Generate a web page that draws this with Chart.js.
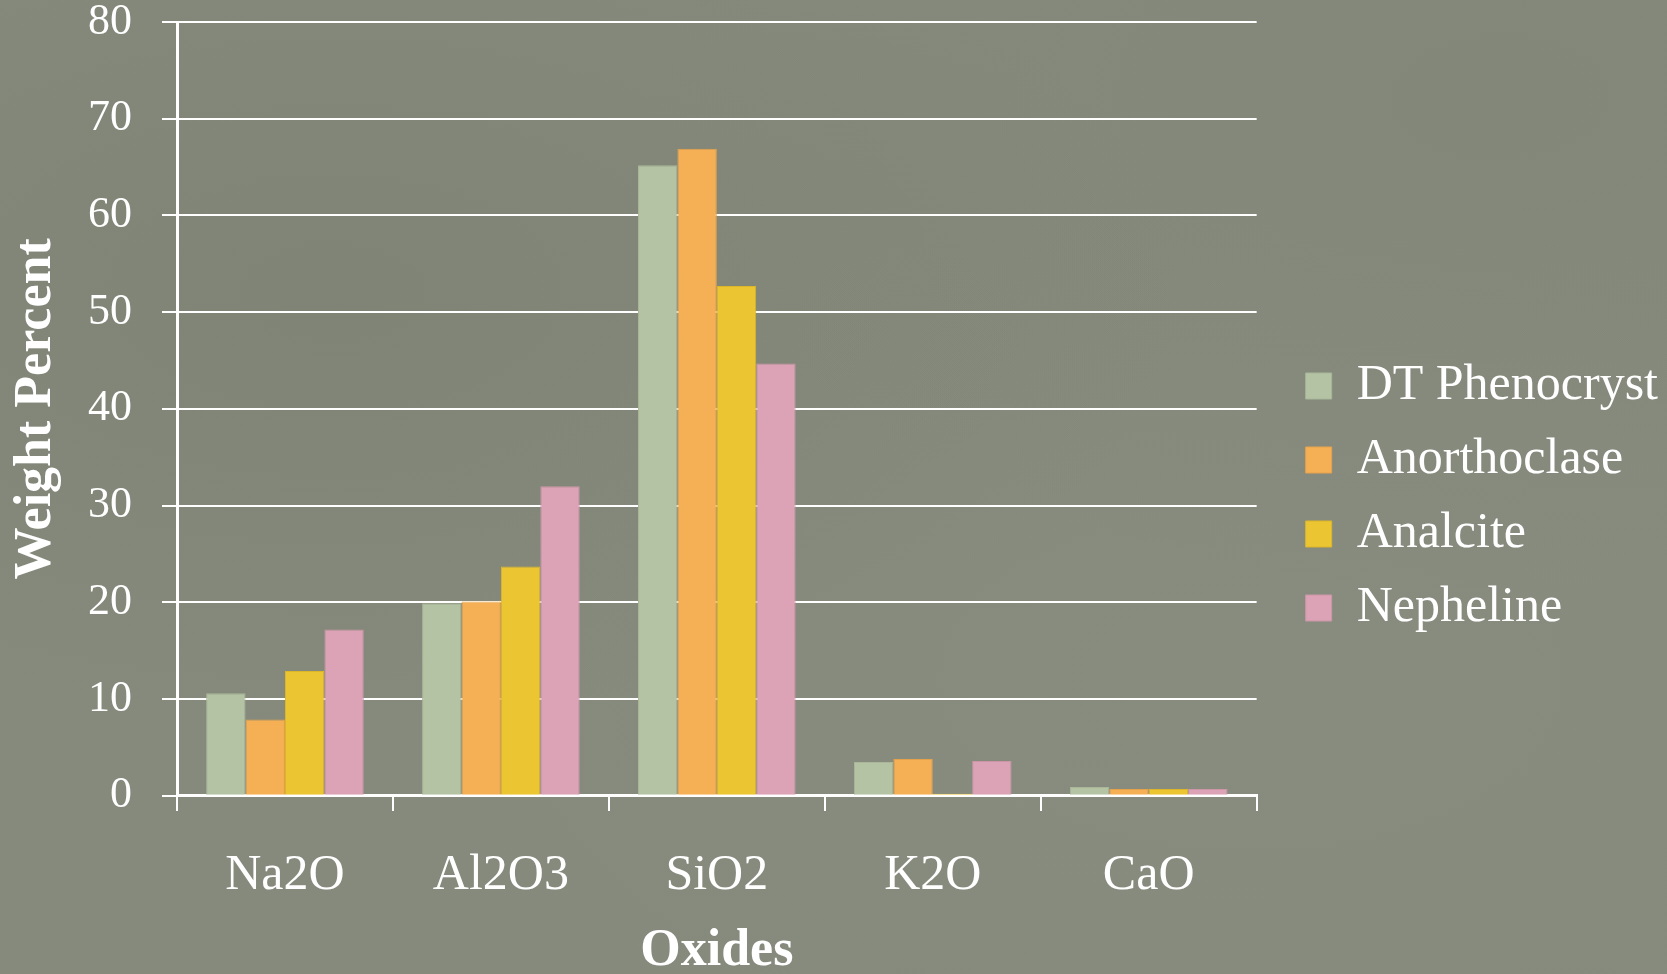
<!DOCTYPE html>
<html>
<head>
<meta charset="utf-8">
<script src="https://cdn.jsdelivr.net/npm/chart.js@4/dist/chart.umd.min.js"></script>
<style>
  html, body { margin: 0; padding: 0; }
  body {
    width: 1667px; height: 974px; overflow: hidden;
    background-color: #858a7c;
    background-image:
      radial-gradient(ellipse at 20% 30%, rgba(112,117,102,0.3), rgba(0,0,0,0) 45%),
      radial-gradient(ellipse at 75% 70%, rgba(142,145,132,0.3), rgba(0,0,0,0) 50%),
      radial-gradient(ellipse at 90% 10%, rgba(122,126,112,0.25), rgba(0,0,0,0) 40%);
  }
  #wrap { position: absolute; left: 0; top: 0; width: 1667px; height: 974px; }
</style>
</head>
<body>
<div id="wrap"><canvas id="c" width="1667" height="974"></canvas></div>
<script>
const categories = ['Na2O', 'Al2O3', 'SiO2', 'K2O', 'CaO'];
const seriesNames = ['DT Phenocryst', 'Anorthoclase', 'Analcite', 'Nepheline'];
const dtPhenocryst = [10.6, 19.9, 65.2, 3.5, 0.9];
const anorthoclase = [7.9, 20.1, 66.9, 3.8, 0.7];
const analcite = [12.9, 23.7, 52.7, 0.2, 0.7];
const nepheline = [17.2, 32.0, 44.7, 3.6, 0.7];
const yTicks = [0, 10, 20, 30, 40, 50, 60, 70, 80];

const fills = ['#b5c3a5', '#f5b056', '#ecc532', '#dba3b5'];
const borders = ['#a9b697', '#e6a24a', '#dcb628', '#cd96a8'];
const values = [dtPhenocryst, anorthoclase, analcite, nepheline];

const FONT = "'Liberation Serif', 'Times New Roman', serif";
const LEGEND_SHIFT = 25;

// moves the legend a little to the right of its layout slot (gap between plot and legend)
const legendShift = {
  id: 'legendShift',
  afterLayout(chart) {
    const lg = chart.legend;
    if (!lg) return;
    lg.left += LEGEND_SHIFT;
    lg.right += LEGEND_SHIFT;
    if (lg.legendHitBoxes) lg.legendHitBoxes.forEach(h => { h.left += LEGEND_SHIFT; });
  }
};

new Chart(document.getElementById('c'), {
  type: 'bar',
  plugins: [legendShift],
  data: {
    labels: categories,
    datasets: seriesNames.map((n, i) => ({
      label: n,
      data: values[i],
      backgroundColor: fills[i],
      borderColor: borders[i],
      borderWidth: 1,
      barPercentage: 1.0,
      categoryPercentage: 0.73
    }))
  },
  options: {
    responsive: false,
    animation: false,
    layout: { padding: { top: 0, right: 24, left: 11, bottom: 0 } },
    plugins: {
      tooltip: { enabled: false },
      legend: {
        position: 'right',
        align: 'center',
        title: { display: true, text: ' ', font: { size: 10 }, padding: 4 },
        labels: {
          color: '#ffffff',
          font: { family: FONT, size: 50 },
          boxWidth: 26,
          boxHeight: 26,
          padding: 24
        }
      }
    },
    scales: {
      x: {
        grid: {
          display: true,
          drawOnChartArea: false,
          drawTicks: true,
          tickLength: 55,
          tickBorderDash: [14, 1000],
          offset: true,
          color: '#ffffff',
          lineWidth: 2
        },
        border: { display: true, color: '#ffffff', width: 3 },
        ticks: {
          color: '#ffffff',
          font: { family: FONT, size: 50, lineHeight: 1.0 },
          padding: 0
        },
        title: {
          display: true,
          text: 'Oxides',
          color: '#ffffff',
          font: { family: FONT, size: 52, weight: 'bold', lineHeight: 0.85 },
          padding: { top: 29, bottom: 0 }
        }
      },
      y: {
        min: 0,
        max: 80,
        afterBuildTicks: (axis) => { axis.ticks = yTicks.map(v => ({ value: v })); },
        grid: {
          color: '#ffffff',
          lineWidth: 2,
          drawTicks: true,
          tickLength: 45,
          tickBorderDash: [0, 30, 100, 0]
        },
        border: { display: true, color: '#ffffff', width: 3 },
        ticks: {
          color: '#ffffff',
          font: { family: FONT, size: 44, lineHeight: 1.0 },
          padding: 0
        },
        title: {
          display: true,
          text: 'Weight Percent',
          color: '#ffffff',
          font: { family: FONT, size: 52, weight: 'bold', lineHeight: 1.0 },
          padding: { top: 0, bottom: 25 }
        }
      }
    }
  }
});
</script>
</body>
</html>
